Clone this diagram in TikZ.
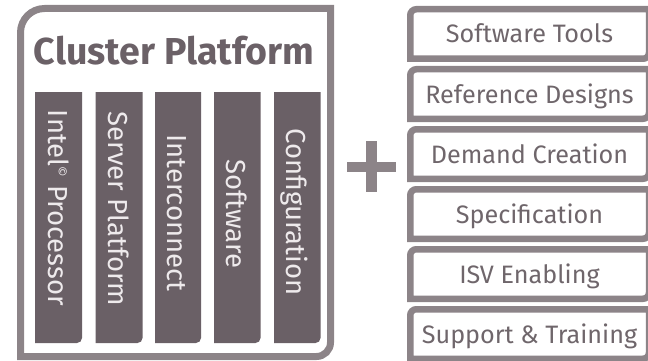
\documentclass[tikz,border=0pt]{standalone}
\usepackage{fontspec}
\setmainfont{Fira Sans}
\definecolor{framegray}{HTML}{8C8488}
\definecolor{bardark}{HTML}{6A6066}
\definecolor{titleink}{HTML}{6B6167}
\definecolor{boxink}{HTML}{6F666B}
\definecolor{barink}{HTML}{EEEAEC}
\tikzset{
  frameline/.style={draw=framegray, line width=7pt, line join=miter},
  itemline/.style={draw=framegray, line width=6.5pt, line join=miter, fill=white},
  barfill/.style={fill=bardark},
  bartext/.style={text=barink, font=\fontsize{27.5}{28}\selectfont, rotate=-90, anchor=base, inner sep=0pt},
  itemtext/.style={text=boxink, font=\fontsize{25.2}{26}\selectfont, anchor=base, inner sep=0pt},
  titletext/.style={text=titleink, font=\bfseries\fontsize{37.5}{38}\selectfont, anchor=base, inner sep=0pt},
}
\begin{document}
\begin{tikzpicture}[x=1pt,y=1pt]
\useasboundingbox (0,0) rectangle (648,-361);
\clip (0,0) rectangle (648,-361);

% Cluster platform frame: big rounded top-left, rounded bottom-right
\draw[frameline] (20.5,-356.5) -- (20.5,-32.5)
  arc[start angle=180, end angle=90, radius=24] -- (330.5,-8.5)
  -- (330.5,-342.5) arc[start angle=0, end angle=-90, radius=14] -- cycle;

\node[titletext] (title) at (174,-65) {Cluster Platform};

% Five component bars
\foreach \i/\x/\w/\yc/\lbl in {
  1/35/47/208/{Intel\textsuperscript{\fontsize{13}{13}\selectfont ©} Processor},
  2/95.5/47/209/{Server Platform},
  3/155/46/213/{Interconnect},
  4/214/46.5/214/{Software},
  5/274/46.5/212/{Configuration}} {
  \fill[barfill] (\x,-92) -- (\x+\w,-92) -- (\x+\w,-338)
     arc[start angle=0, end angle=-90, radius=5] -- (\x,-343) -- cycle;
  \node[bartext] (bar\i) at (\x+\w/2-10.5,-\yc) {\lbl};
}

% Plus sign
\fill[framegray] (366,-141) rectangle (377,-192);
\fill[framegray] (347,-162) rectangle (396,-172);
\coordinate (plus) at (371.5,-167);

% Service boxes on the right
\foreach \i/\lbl in {0/Software Tools, 1/Reference Designs, 2/Demand Creation,
                     3/Specification, 4/ISV Enabling, 5/Support \& Training} {
  \pgfmathsetmacro{\t}{-9.25-60*\i}
  \pgfmathsetmacro{\b}{-58.75-60*\i}
  \draw[itemline] (410.25,\b) -- (410.25,\t-6)
    arc[start angle=180, end angle=90, radius=6] -- (649,\t)
    -- (649,\b+6) arc[start angle=0, end angle=-90, radius=6] -- cycle;
  \node[itemtext] (item\i) at (529.5,-43-60*\i) {\lbl};
}
\end{tikzpicture}
\end{document}
